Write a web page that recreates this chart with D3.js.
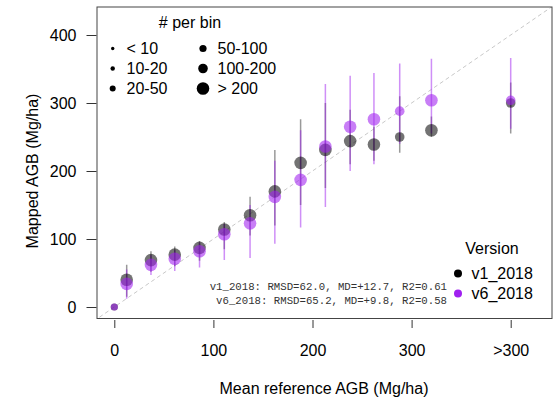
<!DOCTYPE html>
<html>
<head>
<meta charset="utf-8">
<script src="https://cdn.jsdelivr.net/npm/d3@7"></script>
<style>
  body { margin: 0; background: #fff; }
  svg { display: block; font-family: "Liberation Sans", Arial, sans-serif; }
</style>
</head>
<body>
<div id="chart"></div>
<script>
// ---- data ----
const binX = [0, 12.5, 37, 61, 86, 111, 137, 162, 188, 213, 238, 262, 288, 320, 400];
const binSize = [3, 5, 5, 5, 5, 5, 5, 5, 5, 5, 5, 5, 4, 5, 4]; // index into sizeLabels
const v1Mean = [0, 40, 69, 77, 87, 114, 135, 170, 212, 231, 244, 239, 250, 260, 300];
const v1Low  = [0, 15, 52, 60, 68, 85, 105, 120, 150, 175, 210, 215, 227, 250, 255];
const v1High = [0, 62, 82, 89, 97, 125, 162, 231, 276, 300, 290, 265, 310, 280, 330];
const v6Mean = [0, 34, 62, 71, 82, 107, 123, 162, 187, 236, 265, 276, 288, 304, 304];
const v6Low  = [0, 12, 47, 53, 58, 69, 72, 93, 117, 147, 200, 210, 240, 255, 262];
const v6High = [0, 55, 76, 84, 95, 122, 150, 215, 260, 328, 340, 344, 358, 365, 366];
const xTicks = [0, 100, 200, 300, 400];
const xTickLabels = ["0", "100", "200", "300", ">300"];
const yTicks = [0, 100, 200, 300, 400];
const sizeLabels = ["< 10", "10-20", "20-50", "50-100", "100-200", "> 200"];
const seriesNames = ["v1_2018", "v6_2018"];
const statsLines = ["v1_2018: RMSD=62.0, MD=+12.7, R2=0.61", "v6_2018: RMSD=65.2, MD=+9.8, R2=0.58"];

// ---- layout ----
const W = 553, H = 399;
const box = { l: 97, r: 552, t: 7, b: 318.5 };
const sizeR = [1.7, 2.2, 3, 3.6, 4.8, 6.3];
const colV1 = "#000000", colV6 = "#A020F0";
const SANS = "'Liberation Sans', Arial, sans-serif";
const MONO = "'Liberation Mono', 'Courier New', monospace";

const svg = d3.select("#chart").append("svg").attr("width", W).attr("height", H);

const x = d3.scaleLinear().domain([0, 400]).range([114.3, 510.7]);
const y = d3.scaleLinear().domain([0, 400]).range([307, 35]);

svg.append("defs").append("clipPath").attr("id", "clip")
  .append("rect").attr("x", box.l).attr("y", box.t)
  .attr("width", box.r - box.l).attr("height", box.b - box.t);

// 1:1 line
svg.append("line").attr("clip-path", "url(#clip)")
  .attr("x1", x(-50)).attr("y1", y(-50)).attr("x2", x(500)).attr("y2", y(500))
  .attr("stroke", "#c8c8c8").attr("stroke-width", 1).attr("stroke-dasharray", "4,3");

const idx = d3.range(binX.length);
const g = svg.append("g").attr("clip-path", "url(#clip)");

// error bars
g.selectAll("line.e1").data(idx.filter(i => v1High[i] > v1Low[i])).join("line")
  .attr("x1", i => x(binX[i])).attr("x2", i => x(binX[i]))
  .attr("y1", i => y(v1Low[i])).attr("y2", i => y(v1High[i]))
  .attr("stroke", colV1).attr("stroke-opacity", 0.4).attr("stroke-width", 1.5);
g.selectAll("line.e6").data(idx.filter(i => v6High[i] > v6Low[i])).join("line")
  .attr("x1", i => x(binX[i])).attr("x2", i => x(binX[i]))
  .attr("y1", i => y(v6Low[i])).attr("y2", i => y(v6High[i]))
  .attr("stroke", colV6).attr("stroke-opacity", 0.5).attr("stroke-width", 1.5);

// points
g.selectAll("circle.p1").data(idx).join("circle")
  .attr("cx", i => x(binX[i])).attr("cy", i => y(v1Mean[i]))
  .attr("r", i => sizeR[binSize[i]])
  .attr("fill", colV1).attr("fill-opacity", 0.55);
g.selectAll("circle.p6").data(idx).join("circle")
  .attr("cx", i => x(binX[i])).attr("cy", i => y(v6Mean[i]))
  .attr("r", i => sizeR[binSize[i]])
  .attr("fill", colV6).attr("fill-opacity", 0.58);

// box
svg.append("rect").attr("x", box.l).attr("y", box.t)
  .attr("width", box.r - box.l).attr("height", box.b - box.t)
  .attr("fill", "none").attr("stroke", "#444").attr("stroke-width", 1);

// axes
const xAxis = svg.append("g").attr("transform", `translate(0,${box.b + 1.5})`)
  .call(d3.axisBottom(x).tickValues(xTicks).tickSize(8).tickSizeOuter(0)
    .tickFormat((d, i) => xTickLabels[i]));
xAxis.select(".domain").remove();
xAxis.selectAll(".tick line").attr("stroke", "#333");
xAxis.selectAll(".tick text").attr("font-size", 16).attr("fill", "#000")
  .style("font-family", SANS).attr("dy", "0").attr("y", 36);

const yAxis = svg.append("g").attr("transform", `translate(${box.l - 0.5},0)`)
  .call(d3.axisLeft(y).tickValues(yTicks).tickSize(10).tickSizeOuter(0));
yAxis.select(".domain").remove();
yAxis.selectAll(".tick line").attr("stroke", "#333");
yAxis.selectAll(".tick text").attr("font-size", 16).attr("fill", "#000")
  .style("font-family", SANS).attr("x", -20).attr("dy", "0.36em");

// axis titles
svg.append("text").attr("x", 324).attr("y", 394).attr("text-anchor", "middle")
  .style("font-family", SANS).attr("font-size", 16).attr("fill", "#000").text("Mean reference AGB (Mg/ha)");
svg.append("text").attr("transform", "translate(38,171) rotate(-90)").attr("text-anchor", "middle")
  .style("font-family", SANS).attr("font-size", 16).attr("fill", "#000").text("Mapped AGB (Mg/ha)");

// size legend
svg.append("text").attr("x", 190).attr("y", 28).attr("text-anchor", "middle")
  .style("font-family", SANS).attr("font-size", 16).attr("fill", "#000").text("# per bin");
const sl = svg.append("g");
sizeLabels.forEach((lab, i) => {
  const col = Math.floor(i / 3), row = i % 3;
  const cx = col === 0 ? 112.7 : 203, tx = col === 0 ? 126.5 : 217.5;
  const cy = 48.5 + row * 20;
  sl.append("circle").attr("cx", cx).attr("cy", cy).attr("r", sizeR[i]).attr("fill", "#000");
  sl.append("text").attr("x", tx).attr("y", cy).attr("dy", "0.36em")
    .style("font-family", SANS).attr("font-size", 16).attr("fill", "#000").text(lab);
});

// stats text
statsLines.forEach((t, i) => {
  svg.append("text").attr("x", 447).attr("y", 290 + i * 14).attr("text-anchor", "end")
    .style("font-family", MONO).attr("font-size", 10.7)
    .attr("fill", "#333").text(t);
});

// version legend
svg.append("text").attr("x", 492).attr("y", 254).attr("text-anchor", "middle")
  .style("font-family", SANS).attr("font-size", 16).attr("fill", "#000").text("Version");
[colV1, colV6].forEach((c, i) => {
  const cy = 273.5 + i * 20;
  svg.append("circle").attr("cx", 458).attr("cy", cy).attr("r", 4).attr("fill", c);
  svg.append("text").attr("x", 471.5).attr("y", cy).attr("dy", "0.36em")
    .style("font-family", SANS).attr("font-size", 16).attr("fill", "#000").text(seriesNames[i]);
});
</script>
</body>
</html>
